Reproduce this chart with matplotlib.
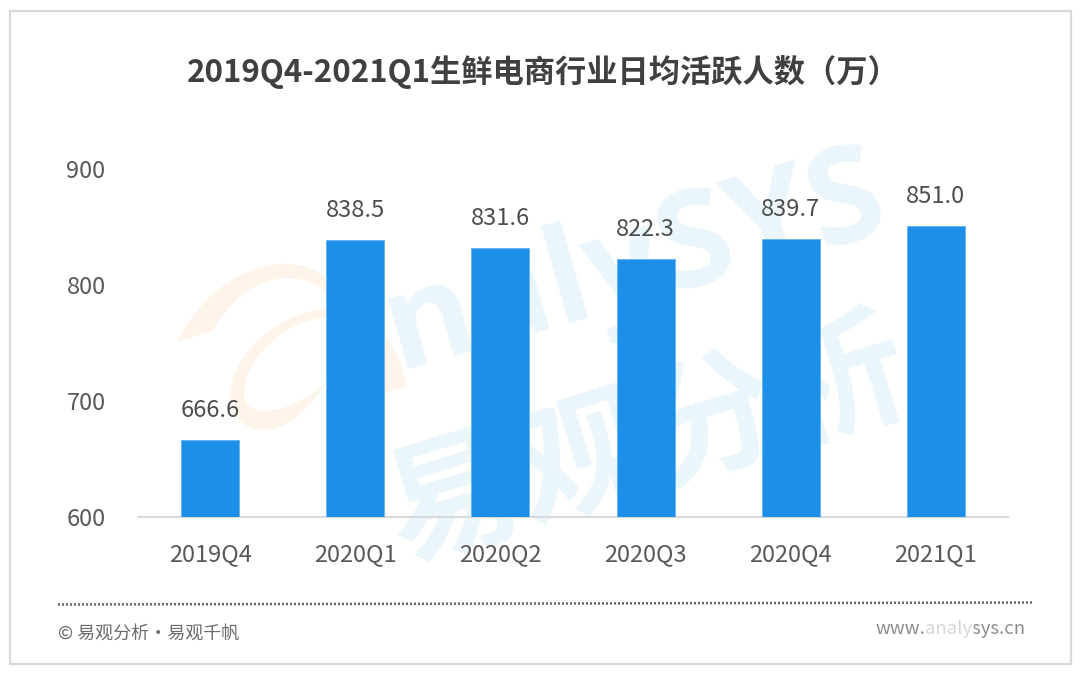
import matplotlib

matplotlib.use("Agg")
import matplotlib.pyplot as plt
from matplotlib.patches import PathPatch, Rectangle
from matplotlib.path import Path
from matplotlib.lines import Line2D

plt.rcParams["font.family"] = ["Noto Sans CJK SC", "DejaVu Sans"]

quarters = ["2019Q4", "2020Q1", "2020Q2", "2020Q3", "2020Q4", "2021Q1"]
active_users = [666.6, 838.5, 831.6, 822.3, 839.7, 851.0]
y_ticks = [600, 700, 800, 900]

title = "2019Q4-2021Q1生鲜电商行业日均活跃人数（万）"
source_text = "© 易观分析·易观千帆"
site_text = "www.analysys.cn"

W, H = 1080, 674
BAR_COLOR = "#1c8fe8"
TEXT_COLOR = "#595959"
MARK_BLUE = "#ebf6fc"
MARK_ORANGE = "#fff4ea"


def fx(x):
    return x / W


def fy(y):
    # pixel rows in the picture run downwards
    return 1 - y / H


def logo_shape(fig, points, color):
    # points: start, then (ctrl, ctrl, end) cubic segments
    verts = [(fx(x), fy(y)) for x, y in points]
    codes = [Path.MOVETO] + [Path.CURVE4] * (len(verts) - 1)
    fig.add_artist(PathPatch(Path(verts, codes), facecolor=color, edgecolor="none",
                             transform=fig.transFigure, zorder=-5))


fig = plt.figure(figsize=(W / 100, H / 100), dpi=100, facecolor="white")

# outer frame
fig.add_artist(Rectangle((fx(10), fy(664)), fx(1061), 653 / H, transform=fig.transFigure,
                         facecolor="white", edgecolor="#d9d9d9", linewidth=1.6, zorder=-10))

# watermark
logo_shape(fig, [(177, 342), (205, 285), (255, 262), (290, 264),
                 (322, 266), (350, 290), (346, 335),
                 (345, 300), (318, 277), (285, 278),
                 (255, 280), (228, 302), (212, 332),
                 (200, 335), (188, 338), (177, 342)], MARK_ORANGE)
logo_shape(fig, [(230, 395), (232, 350), (285, 308), (335, 308),
                 (375, 310), (398, 345), (407, 386),
                 (398, 389), (389, 391), (380, 394),
                 (378, 350), (365, 318), (325, 318),
                 (285, 320), (243, 360), (244, 395),
                 (246, 420), (290, 415), (327, 382),
                 (305, 415), (282, 432), (260, 430),
                 (240, 428), (230, 412), (230, 395)], MARK_ORANGE)
fig.text(fx(636), fy(265), "nalySYS", fontsize=96, color=MARK_BLUE, rotation=16, fontweight="bold",
         ha="center", va="center", family=["Open Sans", "DejaVu Sans"], zorder=-4)
fig.text(fx(648), fy(445), "易观分析", fontsize=97, color=MARK_BLUE, rotation=17, fontweight="bold",
         ha="center", va="center", zorder=-4)

ax = fig.add_axes([137.5 / W, 1 - 517 / H, 871 / W, 348 / H])
ax.patch.set_alpha(0)

x_pos = list(range(len(quarters)))
bars = ax.bar(x_pos, active_users, width=0.4, color=BAR_COLOR, edgecolor="#62b4f2", linewidth=0.6, zorder=3)
ax.bar_label(bars, labels=[f"{v:.1f}" for v in active_users], padding=13, fontsize=17, color="#4d4d4d")

ax.set_xlim(-0.5, len(quarters) - 0.5)
ax.set_ylim(600, 900)
ax.set_xticks(x_pos, quarters)
ax.set_yticks(y_ticks)
ax.tick_params(axis="both", length=0, labelsize=17, labelcolor=TEXT_COLOR)
ax.tick_params(axis="x", pad=19)
ax.tick_params(axis="y", pad=23)
for side in ["top", "right", "left"]:
    ax.spines[side].set_visible(False)
ax.spines["bottom"].set_color("#d9d9d9")
ax.spines["bottom"].set_linewidth(1.5)

fig.text(fx(543), fy(72), title, fontsize=22.5, fontweight="bold", color="#404040", ha="center", va="center")

# footer
fig.add_artist(Line2D([fx(58), fx(1032)], [fy(604.5), fy(602.5)], transform=fig.transFigure,
                      color="#666666", linewidth=1.8, linestyle=(0, (0.8, 0.8))))
fig.text(fx(58), fy(634), source_text, fontsize=13, color="#6b6b6b", ha="left", va="center")
fig.text(fx(875), fy(629), site_text, fontsize=13.3, color="#8c8c8c", ha="left", va="center")
# the site name is partly washed out in the source image
fig.add_artist(Rectangle((fx(926), fy(640)), 48 / W, 22 / H, transform=fig.transFigure,
                         facecolor="white", edgecolor="none", alpha=0.65, zorder=5))

fig.savefig("out.png", dpi=100)
plt.close(fig)
